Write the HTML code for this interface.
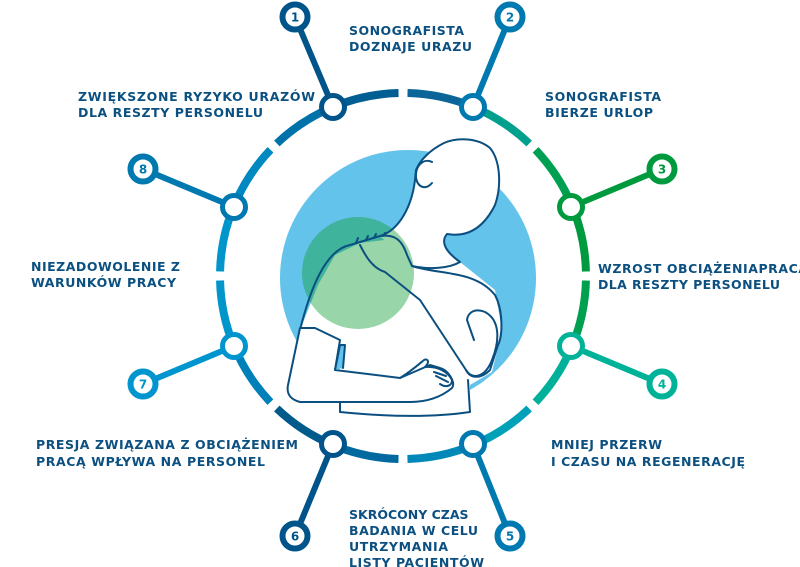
<!DOCTYPE html>
<html><head><meta charset="utf-8"><style>
html,body{margin:0;padding:0;background:#fff;width:800px;height:567px;overflow:hidden}
svg{display:block}
text{font-family:"DejaVu Sans","Liberation Sans",sans-serif;font-weight:bold;font-size:12.5px;fill:#0b5080}
.n{font-size:12px;text-anchor:middle}
</style></head><body>
<svg id="s" width="800" height="567" viewBox="0 0 800 567" xmlns="http://www.w3.org/2000/svg">
<circle cx="408" cy="278" r="128" fill="#63c3ea"/>
<g id="ring"></g>
<!-- figure fills -->
<g fill="#fff" stroke="none">
<polygon points="300,330 318,285 335,255 360,243 400,238 412,266 460,262 495,290 502,330 492,372 470,385 470,412 340,414 290,400"/>
<path d="M380,236 C400,230 412,205 415,180 L416,170 C420,160 430,150 444,143 C458,137 478,138 490,148 C500,160 502,185 495,205 C485,225 470,238 447,234 C440,242 446,252 460,262 L412,266 Z"/>
</g>
<circle cx="358" cy="273" r="56" fill="#109e35" opacity="0.43"/>
<g fill="none" stroke="#0b4f80" stroke-width="2" stroke-linejoin="round" stroke-linecap="round">
<path d="M300,330 C310,290 325,250 350,245 L380,236 C395,234 402,240 407,255 L412,266 C430,270 450,268 460,262 C446,252 440,242 447,234 C470,238 485,225 495,205 C502,185 500,160 490,148 C478,138 458,137 444,143 C430,150 420,160 416,170 L415,180 C412,205 400,230 380,236"/>
<path d="M432,162 C424,158 415,165 416,178 C418,188 426,190 432,183"/>
<path d="M412,266 C440,275 475,270 495,295 C503,310 503,335 498,345 L490,370 C480,380 470,378 466,370"/>
<path d="M360,245 C365,255 372,268 385,272 L420,300 L466,370 C472,380 485,378 492,360 C500,340 500,320 485,312 C475,308 468,312 467,320 L474,340"/>
<path d="M300,328 L288,385 C286,395 292,400 300,402 L410,402 C425,402 440,398 452,388 C456,382 448,370 440,368 L430,365 L400,378 L335,370 L340,340 L315,328 Z" fill="#fff"/>
<path d="M340,402 L340,412 C380,416 430,418 470,412 L468,380"/>
<path d="M400,378 C410,372 418,365 424,360 C428,358 430,362 425,367 C438,366 448,372 452,380 C452,386 446,388 440,384 M436,376 L448,382 M434,372 L446,376"/>
<path d="M335,370 L340,345 L345,345 L343,368" fill="#63c3ea"/>
<path d="M356,243 L358,238 M366,240 L368,236 M374,238 L376,234 M383,236 L385,233"/>
</g>
<g id="nodes"></g>
<text x="349" y="35" textLength="115">SONOGRAFISTA</text>
<text x="349" y="51" textLength="123">DOZNAJE URAZU</text>
<text x="545" y="101" textLength="116">SONOGRAFISTA</text>
<text x="545" y="117" textLength="108">BIERZE URLOP</text>
<text x="598" y="273" textLength="210">WZROST OBCIĄŻENIAPRACĄ</text>
<text x="598" y="289" textLength="182">DLA RESZTY PERSONELU</text>
<text x="551" y="449" textLength="111">MNIEJ PRZERW</text>
<text x="551" y="466" textLength="194">I CZASU NA REGENERACJĘ</text>
<text x="349" y="519">SKRÓCONY CZAS</text>
<text x="349" y="535" textLength="129">BADANIA W CELU</text>
<text x="349" y="551" textLength="99">UTRZYMANIA</text>
<text x="349" y="567" textLength="135">LISTY PACJENTÓW</text>
<text x="36" y="449" textLength="262">PRESJA ZWIĄZANA Z OBCIĄŻENIEM</text>
<text x="36" y="466" textLength="229">PRACĄ WPŁYWA NA PERSONEL</text>
<text x="31" y="271" textLength="149">NIEZADOWOLENIE Z</text>
<text x="31" y="287" textLength="145">WARUNKÓW PRACY</text>
<text x="78" y="101" textLength="237">ZWIĘKSZONE RYZYKO URAZÓW</text>
<text x="78" y="117" textLength="185">DLA RESZTY PERSONELU</text>
</svg>
<script>
var NS="http://www.w3.org/2000/svg",cx=403,cy=276,R=183;
function pt(a,r){var t=a*Math.PI/180;return [cx+r*Math.sin(t),cy-r*Math.cos(t)];}
var cols=["#0b6598","#00a08c","#00a052","#009a3e","#00a050","#00b09a","#00a0b8","#0088b8","#006aa0","#005a8c","#0080b8","#0096cc","#0096cc","#0088c0","#0072aa","#005e92"];
var ring=document.getElementById("ring");
for(var i=0;i<16;i++){
 var a0=i*22.5+(i%2==0?1.4:0),a1=(i+1)*22.5-(i%2==1?1.4:0);
 var p0=pt(a0,R),p1=pt(a1,R);
 var p=document.createElementNS(NS,"path");
 p.setAttribute("d","M"+p0[0]+","+p0[1]+" A"+R+","+R+" 0 0 1 "+p1[0]+","+p1[1]);
 p.setAttribute("fill","none");p.setAttribute("stroke",cols[i]);p.setAttribute("stroke-width","8");
 ring.appendChild(p);
}
for(var k=0;k<8;k++){
 var a=k*45,o=pt(a+1.4,R-5),o2=pt(a+1.4,R+5),m=pt(a-0.2,R);
 var t=document.createElementNS(NS,"polygon");
 t.setAttribute("points",o[0]+","+o[1]+" "+m[0]+","+m[1]+" "+o2[0]+","+o2[1]);
 t.setAttribute("fill","#fff");ring.appendChild(t);
}
var nodes=[[333,107,295,17,"#00548a"],[473,107,510,17,"#0079b0"],[571,207,662,169,"#009a3e"],[571,346,662,384,"#00b398"],[473,444,510,536,"#0079b0"],[333,444,295,536,"#00548a"],[234,346,143,384,"#0095cf"],[234,207,143,169,"#0078b0"]];
var g=document.getElementById("nodes");
nodes.forEach(function(n,i){
 var l=document.createElementNS(NS,"line");
 l.setAttribute("x1",n[0]);l.setAttribute("y1",n[1]);l.setAttribute("x2",n[2]);l.setAttribute("y2",n[3]);
 l.setAttribute("stroke",n[4]);l.setAttribute("stroke-width","6");g.appendChild(l);
 var c1=document.createElementNS(NS,"circle");
 c1.setAttribute("cx",n[0]);c1.setAttribute("cy",n[1]);c1.setAttribute("r","11.5");
 c1.setAttribute("fill","#fff");c1.setAttribute("stroke",n[4]);c1.setAttribute("stroke-width","5");g.appendChild(c1);
 var c2=document.createElementNS(NS,"circle");
 c2.setAttribute("cx",n[2]);c2.setAttribute("cy",n[3]);c2.setAttribute("r","12.5");
 c2.setAttribute("fill","#fff");c2.setAttribute("stroke",n[4]);c2.setAttribute("stroke-width","6");g.appendChild(c2);
 var t=document.createElementNS(NS,"text");
 t.setAttribute("x",n[2]);t.setAttribute("y",n[3]+4.5);t.setAttribute("class","n");
 t.setAttribute("style","fill:"+n[4]);t.textContent=(i+1);g.appendChild(t);
});
</script>
</body></html>
